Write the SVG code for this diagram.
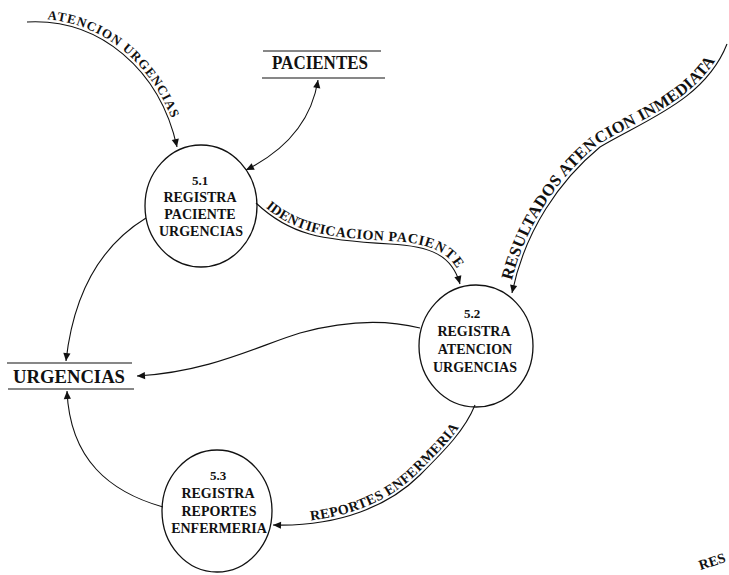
<svg xmlns="http://www.w3.org/2000/svg" width="729" height="575" viewBox="0 0 729 575">
  <style>
    .bg { fill: #ffffff; }
    .proc { fill: none; stroke: #111; stroke-width: 1.3; }
    .store { stroke: #111; stroke-width: 1.2; }
    .flow { fill: none; stroke: #111; stroke-width: 1.1; }
    .ptxt { font-family: "Liberation Serif", "Times New Roman", serif; font-weight: bold; font-size: 14px; fill: #111; text-anchor: middle; }
    .num { font-size: 13px; }
    .stxt { font-family: "Liberation Serif", "Times New Roman", serif; font-weight: bold; font-size: 18.5px; fill: #111; }
    .ftxt { font-family: "Liberation Serif", "Times New Roman", serif; font-weight: bold; fill: #111; }
    .f13 { font-size: 13px; letter-spacing: 0.8px; }
    .f14 { font-size: 14px; letter-spacing: 0.5px; }
    .f16 { font-size: 16.5px; letter-spacing: 0.3px; }
    .stamp { font-size: 14px; }
  </style>
  <defs>
    <marker id="ah" viewBox="0 0 10 10" refX="10" refY="5" markerWidth="9" markerHeight="8" markerUnits="userSpaceOnUse" orient="auto-start-reverse">
      <path d="M0,0.5 L10,5 L0,9.5 z" fill="#111"/>
    </marker>
    <!-- baselines for the flow labels, drawn in reading direction -->
    <path id="lp-atencion" d="M27,22 C100,18 160,70 177,147"/>
    <path id="lp-ident" d="M256,203 C290,235 320,240 390,244 C430,246 452,255 460,284"/>
    <path id="lp-result" d="M512,293 C525,230 560,180 600,147 C645,120 705,100 727,44"/>
    <path id="lp-report" d="M273,525 C340,527 390,505 420,475 C445,450 465,430 475,405"/>
  </defs>

  <rect class="bg" x="0" y="0" width="729" height="575"/>

  <!-- data flows -->
  <g id="connectors">
    <path class="flow" d="M27,22 C100,18 160,70 177,147" marker-end="url(#ah)"/>
    <path class="flow" d="M318,80 C312,118 290,148 246,170" marker-start="url(#ah)" marker-end="url(#ah)"/>
    <path class="flow" d="M256,203 C290,235 320,240 390,244 C430,246 452,255 460,284" marker-end="url(#ah)"/>
    <path class="flow" d="M727,44 C705,100 645,120 600,147 C560,180 525,230 512,293" marker-end="url(#ah)"/>
    <path class="flow" d="M146,218 C110,240 75,280 66,361" marker-end="url(#ah)"/>
    <path class="flow" d="M420,328 C380,318 340,322 300,333 C260,345 210,372 137,376" marker-end="url(#ah)"/>
    <path class="flow" d="M475,405 C465,430 445,450 420,475 C390,505 340,527 273,525" marker-end="url(#ah)"/>
    <path class="flow" d="M163,507 C110,492 70,460 67,391" marker-end="url(#ah)"/>

    <text class="ftxt f13" dy="-3"><textPath href="#lp-atencion" startOffset="20">ATENCION URGENCIAS</textPath></text>
    <text class="ftxt f14" dy="-3"><textPath href="#lp-ident" startOffset="10">IDENTIFICACION PACIENTE</textPath></text>
    <text class="ftxt f16" dy="-3"><textPath href="#lp-result" startOffset="12">RESULTADOS ATENCION INMEDIATA</textPath></text>
    <text class="ftxt f14" dy="-3"><textPath href="#lp-report" startOffset="38">REPORTES ENFERMERIA</textPath></text>
  </g>

  <!-- data stores -->
  <g id="store-pacientes">
    <line class="store" x1="263" y1="51" x2="381" y2="51"/>
    <line class="store" x1="262" y1="78" x2="385" y2="78"/>
    <text class="stxt" x="272" y="69" textLength="96" lengthAdjust="spacingAndGlyphs">PACIENTES</text>
  </g>
  <g id="store-urgencias">
    <line class="store" x1="7" y1="363" x2="132" y2="363"/>
    <line class="store" x1="8" y1="389" x2="134" y2="389"/>
    <text class="stxt" x="13" y="383" textLength="112" lengthAdjust="spacingAndGlyphs">URGENCIAS</text>
  </g>

  <!-- processes -->
  <g id="proc-5-1">
    <ellipse class="proc" cx="201" cy="206" rx="56" ry="61"/>
    <text class="ptxt num" x="200" y="185">5.1</text>
    <text class="ptxt" x="200" y="202">REGISTRA</text>
    <text class="ptxt" x="200" y="219">PACIENTE</text>
    <text class="ptxt" x="201" y="236">URGENCIAS</text>
  </g>
  <g id="proc-5-2">
    <ellipse class="proc" cx="476" cy="346" rx="57" ry="61"/>
    <text class="ptxt num" x="472" y="318">5.2</text>
    <text class="ptxt" x="474" y="336">REGISTRA</text>
    <text class="ptxt" x="475" y="354">ATENCION</text>
    <text class="ptxt" x="475" y="372">URGENCIAS</text>
  </g>
  <g id="proc-5-3">
    <ellipse class="proc" cx="217" cy="511" rx="55" ry="61"/>
    <text class="ptxt num" x="218" y="480">5.3</text>
    <text class="ptxt" x="218" y="498">REGISTRA</text>
    <text class="ptxt" x="219" y="516">REPORTES</text>
    <text class="ptxt" x="219" y="533">ENFERMERIA</text>
  </g>

  <!-- stamp fragment in the corner -->
  <text class="ftxt stamp" x="698" y="566" transform="rotate(-18 712 560)">RES</text>
</svg>
